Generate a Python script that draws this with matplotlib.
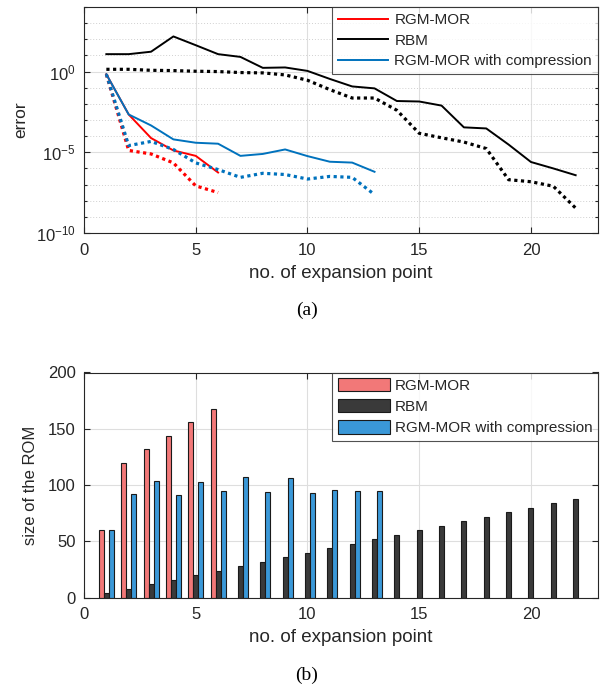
import matplotlib
matplotlib.use("Agg")
import matplotlib.pyplot as plt
import numpy as np
from matplotlib.ticker import NullFormatter, FixedLocator

# ---------------- data ----------------
x_rgm = [1, 2, 3, 4, 5, 6]
x_rbm = list(range(1, 23))
x_cmp = list(range(1, 14))

err_rbm = [1.2e1, 1.2e1, 1.7e1, 1.5e2, 4.3e1, 1.2e1, 8.1, 1.7, 1.8, 1.1, 3.5e-1,
           1.2e-1, 9.1e-2, 1.5e-2, 1.4e-2, 7.8e-3, 3.5e-4, 3.0e-4, 3.0e-5, 2.5e-6,
           1.0e-6, 3.8e-7]
err_rbm_dot = [1.38, 1.38, 1.2, 1.15, 1.05, 1.0, 0.87, 0.83, 0.62, 0.29, 7.6e-2,
               2.3e-2, 2.3e-2, 4.0e-3, 1.5e-4, 7.9e-5, 4.3e-5, 1.7e-5, 2.0e-7,
               1.5e-7, 7.9e-8, 3.5e-9]
err_rgm = [0.68, 2.2e-3, 7.6e-5, 1.3e-5, 6.0e-6, 5.6e-7]
err_rgm_dot = [0.68, 1.3e-5, 7.9e-6, 2.2e-6, 8.3e-8, 3.2e-8]
err_cmp = [0.68, 2.2e-3, 4.6e-4, 6.3e-5, 3.9e-5, 3.4e-5, 6.0e-6, 7.9e-6, 1.5e-5,
           5.8e-6, 2.6e-6, 2.3e-6, 6.2e-7]
err_cmp_dot = [0.68, 2.6e-5, 4.7e-5, 1.5e-5, 2.2e-6, 8.5e-7, 2.8e-7, 5.0e-7,
               4.2e-7, 2.2e-7, 3.2e-7, 2.8e-7, 2.4e-8]

size_rgm = [60, 120, 132, 144, 156, 168]
size_rbm = [4, 8, 12, 16, 20, 24, 28, 32, 36, 40, 44, 48, 52, 56, 60, 64, 68, 72,
            76, 80, 84, 88]
size_cmp = [60, 92, 104, 91, 103, 95, 107, 94, 106, 93, 96, 95, 95]

labels = ["RGM-MOR", "RBM", "RGM-MOR with compression"]

# ---------------- style ----------------
plt.rcParams['font.family'] = ['Liberation Sans', 'DejaVu Sans']
plt.rcParams['mathtext.fontset'] = 'custom'
plt.rcParams['mathtext.rm'] = 'Liberation Sans'
plt.rcParams['mathtext.it'] = 'Liberation Sans:italic'
plt.rcParams['mathtext.bf'] = 'Liberation Sans:bold'
plt.rcParams['mathtext.default'] = 'rm'
TXT = '#262626'
GRID = '#dedede'
C_RED = '#ff0000'
C_BLK = '#000000'
C_BLU = '#0072bd'
B_RED = '#f27878'
B_BLK = '#3a3a3a'
B_BLU = '#3a98d8'

W, H = 601, 688
fig = plt.figure(figsize=(W / 100, H / 100), dpi=100)

def frac(l, t, r, b):
    return [l / W, 1 - b / H, (r - l) / W, (b - t) / H]

ax1 = fig.add_axes(frac(84, 7, 598, 233))
ax2 = fig.add_axes(frac(84, 372.5, 598, 597.5))

def style(ax):
    ax.tick_params(direction='in', which='both', top=True, right=True,
                   labelsize=12, colors=TXT, length=4, width=0.8)
    ax.tick_params(axis='x', pad=7)
    ax.tick_params(axis='y', pad=6)
    ax.tick_params(which='minor', length=2.5)
    for s in ax.spines.values():
        s.set_color('#262626')
        s.set_linewidth(0.8)
    ax.set_axisbelow(True)

# ---- top plot ----
dot = (0, (1.0, 1.1))
ax1.plot(x_rgm, err_rgm, color=C_RED, lw=1.4, label=labels[0])
ax1.plot(x_rbm, err_rbm, color=C_BLK, lw=1.4, label=labels[1])
ax1.plot(x_cmp, err_cmp, color=C_BLU, lw=1.4, label=labels[2])
for xs, ys, c in [(x_rgm, err_rgm_dot, C_RED), (x_rbm, err_rbm_dot, C_BLK),
                  (x_cmp, err_cmp_dot, C_BLU)]:
    ax1.plot(xs, ys, color=c, lw=2.3, ls=dot, dash_capstyle='butt')
ax1.set_yscale('log')
ax1.set_ylim(1e-10, 1e4)
ax1.set_xlim(0, 23)
ax1.yaxis.set_major_locator(FixedLocator([1e-10, 1e-5, 1e0]))
ax1.yaxis.set_minor_locator(FixedLocator([10.0 ** k for k in range(-10, 5)]))
ax1.yaxis.set_minor_formatter(NullFormatter())
ax1.set_xticks([0, 5, 10, 15, 20])
ax1.grid(True, which='major', color=GRID, lw=0.8)
ax1.grid(True, which='minor', axis='y', color='#d0d0d0', lw=0.7, ls=(0, (1, 2)))
style(ax1)
ax1.set_xlabel('no. of expansion point', fontsize=13.5, color=TXT, labelpad=5)
ax1.set_ylabel('error', fontsize=12.5, color=TXT, labelpad=5)
leg1 = ax1.legend(loc='upper right', fontsize=11, frameon=True, fancybox=False,
                  borderaxespad=0, handlelength=3.3, handletextpad=0.4,
                  labelspacing=0.42, borderpad=0.4)
leg1.get_frame().set_edgecolor('#262626')
leg1.get_frame().set_linewidth(0.8)
for t in leg1.get_texts():
    t.set_color(TXT)

# ---- bottom plot ----
bw = 0.225
ax2.bar(np.array(x_rgm) - bw, size_rgm, width=bw, color=B_RED, edgecolor='#1a1a1a',
        lw=0.8, label=labels[0])
ax2.bar(np.array(x_rbm), size_rbm, width=bw, color=B_BLK, edgecolor='#1a1a1a',
        lw=0.8, label=labels[1])
ax2.bar(np.array(x_cmp) + bw, size_cmp, width=bw, color=B_BLU, edgecolor='#1a1a1a',
        lw=0.8, label=labels[2])
ax2.set_xlim(0, 23)
ax2.set_ylim(0, 200)
ax2.set_xticks([0, 5, 10, 15, 20])
ax2.set_yticks([0, 50, 100, 150, 200])
ax2.grid(True, color=GRID, lw=0.8)
style(ax2)
ax2.set_xlabel('no. of expansion point', fontsize=13.5, color=TXT, labelpad=5)
ax2.set_ylabel('size of the ROM', fontsize=12, color=TXT, labelpad=7)
leg2 = ax2.legend(loc='upper right', fontsize=11, frameon=True, fancybox=False,
                  borderaxespad=0, handlelength=3.4, handleheight=0.95,
                  handletextpad=0.35, labelspacing=0.42, borderpad=0.35)
leg2.get_frame().set_edgecolor('#262626')
leg2.get_frame().set_linewidth(0.8)
for t in leg2.get_texts():
    t.set_color(TXT)

fig.text(307 / W, 1 - 310 / H, '(a)', ha='center', va='center', fontsize=14,
         family=['Liberation Serif'], color='black')
fig.text(307 / W, 1 - 675 / H, '(b)', ha='center', va='center', fontsize=14,
         family=['Liberation Serif'], color='black')

fig.savefig('out.png', dpi=100)
